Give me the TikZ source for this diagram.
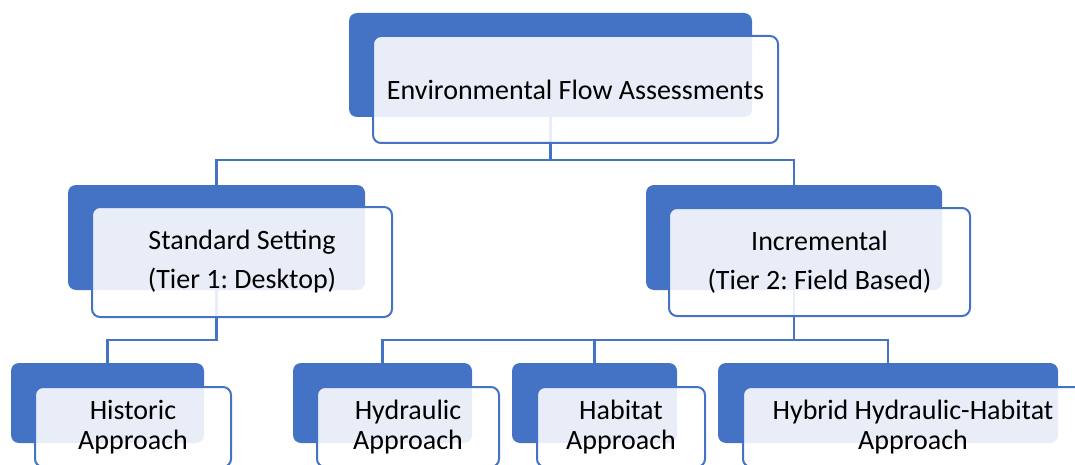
\documentclass[tikz,border=0pt]{standalone}
\usepackage{fontspec}
\setmainfont{Carlito}
\frenchspacing
\definecolor{boxblue}{HTML}{4472C4}
\begin{document}
\begin{tikzpicture}[x=1pt,y=-1pt,
  back/.style={fill=boxblue,rounded corners=8pt,inner sep=0pt},
  front/.style={draw=boxblue,line width=2pt,fill=white,fill opacity=0.88,text opacity=1,
    rounded corners=8pt,align=center,inner sep=0pt},
  link/.style={boxblue,line width=2.3pt}]
  \clip (0,0) rectangle (1075,465);
  \coordinate (bar1) at (0,160);
  \coordinate (bar2) at (0,340);

  % caixas escuras de fundo
  \node[back,minimum width=403pt,minimum height=104pt] (envD) at (550.5,65) {};
  \node[back,minimum width=297pt,minimum height=105pt] (stdD) at (216.5,237.5) {};
  \node[back,minimum width=296pt,minimum height=105pt] (incD) at (794,237.5) {};
  \node[back,minimum width=193pt,minimum height=80pt] (hisD) at (107.5,403) {};
  \node[back,minimum width=179pt,minimum height=80pt] (hydD) at (382.5,403) {};
  \node[back,minimum width=165pt,minimum height=80pt] (habD) at (594.5,403) {};
  \node[back,minimum width=340pt,minimum height=80pt] (hybD) at (888,403) {};

  % ligacoes
  \draw[link] (envD.south) -- (envD.south |- bar1) -| (stdD.north);
  \draw[link] (envD.south) -- (envD.south |- bar1) -| (incD.north);
  \draw[link] (stdD.south) -- (stdD.south |- bar2) -| (hisD.north);
  \draw[link] (incD.south) -- (incD.south |- bar2) -| (hydD.north);
  \draw[link] (incD.south) -- (incD.south |- bar2) -| (habD.north);
  \draw[link] (incD.south) -- (incD.south |- bar2) -| (hybD.north);

  % caixas da frente com texto
  \node[front,minimum width=405pt,minimum height=107pt,font=\fontsize{28pt}{40pt}\selectfont] (env) at (575.5,89.5)
    {Environmental Flow Assessments};
  \node[front,minimum width=300pt,minimum height=110pt,font=\fontsize{28pt}{39pt}\selectfont] (std) at (242,262)
    {Standard Setting\\(Tier 1: Desktop)};
  \node[front,minimum width=301pt,minimum height=108pt,font=\fontsize{28pt}{39pt}\selectfont] (inc) at (819.5,262)
    {Incremental\\(Tier 2: Field Based)};
  \node[front,minimum width=196pt,minimum height=80pt,font=\fontsize{28pt}{30pt}\selectfont] (his) at (133,427)
    {Historic\\Approach};
  \node[front,minimum width=182pt,minimum height=80pt,font=\fontsize{28pt}{30pt}\selectfont] (hyd) at (408,427)
    {Hydraulic\\Approach};
  \node[front,minimum width=168pt,minimum height=80pt,font=\fontsize{28pt}{30pt}\selectfont] (hab) at (621,427)
    {Habitat\\Approach};
  \node[front,minimum width=340pt,minimum height=80pt,font=\fontsize{28pt}{30pt}\selectfont] (hyb) at (913,427)
    {Hybrid Hydraulic-Habitat\\Approach};
\end{tikzpicture}
\end{document}
